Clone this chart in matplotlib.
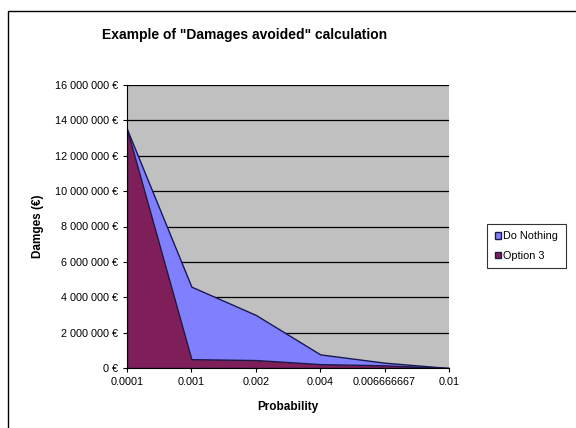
import matplotlib
matplotlib.use("Agg")
import matplotlib.pyplot as plt
from matplotlib.patches import Patch, Rectangle
from matplotlib.ticker import FuncFormatter, MultipleLocator

plt.rcParams['font.family'] = ['Liberation Sans', 'DejaVu Sans']

categories = ["0.0001", "0.001", "0.002", "0.004", "0.006666667", "0.01"]
do_nothing = [13.5e6, 4.6e6, 3.0e6, 0.77e6, 0.3e6, 0.0]
option3 = [13.5e6, 0.5e6, 0.45e6, 0.22e6, 0.15e6, 0.0]

fig = plt.figure(figsize=(5.76, 4.28), dpi=100)
fig.patch.set_facecolor('white')

# outer chart border
fig.add_artist(Rectangle((8/576, -0.01), 1.0, (428-11)/428 + 0.01, transform=fig.transFigure,
                         fill=False, edgecolor='black', linewidth=1.0))

ax = fig.add_axes([127/576, (428-368)/428, (449-127)/576, (368-85)/428])
ax.set_facecolor('#C0C0C0')

x = list(range(len(categories)))
edge = '#1A1A4A'
ax.fill_between(x, do_nothing, 0, facecolor='#8080FF', edgecolor=edge, linewidth=1.0, zorder=2)
ax.fill_between(x, option3, 0, facecolor='#7F1F5A', edgecolor=edge, linewidth=1.0, zorder=3)

ax.set_xlim(0, len(categories) - 1)
ax.set_ylim(0, 16e6)
ax.yaxis.set_major_locator(MultipleLocator(2e6))

def fmt(v, pos):
    v = int(round(v))
    if v == 0:
        return "0 €"
    return "{:,}".format(v).replace(",", " ") + " €"

ax.yaxis.set_major_formatter(FuncFormatter(fmt))
ax.set_xticks(x)
ax.set_xticklabels(categories)
ax.grid(axis='y', color='black', linewidth=0.9, zorder=1)
ax.set_axisbelow(True)
for s in ['top', 'right']:
    ax.spines[s].set_visible(False)
ax.spines['left'].set_color('black')
ax.spines['bottom'].set_color('black')
ax.spines['left'].set_zorder(5)
ax.spines['bottom'].set_zorder(5)
ax.tick_params(axis='both', labelsize=7.8, length=3, color='black', direction='out')

ax.set_xlabel("Probability", fontsize=8.5, fontweight='bold', labelpad=10)
ax.set_ylabel("Damges (€)", fontsize=8.5, fontweight='bold', labelpad=8)
fig.text(0.425, (428-35)/428, 'Example of "Damages avoided" calculation',
         fontsize=10, fontweight='bold', ha='center', va='center')

handles = [Patch(facecolor='#8080FF', edgecolor=edge, label='Do Nothing'),
           Patch(facecolor='#7F1F5A', edgecolor=edge, label='Option 3')]
leg = fig.legend(handles=handles, loc='center left', bbox_to_anchor=(487/576, (428-246)/428),
                 fontsize=7.8, frameon=True, fancybox=False, handlelength=0.6, handleheight=0.6,
                 handletextpad=0.2, borderpad=0.7, labelspacing=0.9, borderaxespad=0)
leg.get_frame().set_edgecolor('black')
leg.get_frame().set_linewidth(0.8)

fig.savefig("out.png", dpi=100)
